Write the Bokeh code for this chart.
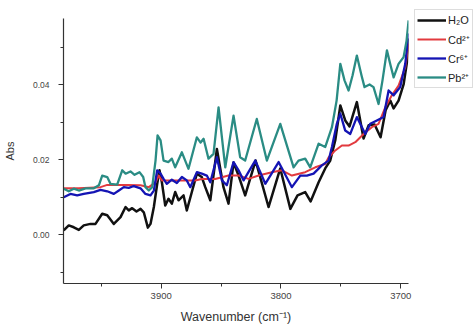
from bokeh.plotting import figure
from bokeh.models import Range1d, FixedTicker, Legend, LegendItem, NumeralTickFormatter
from bokeh.embed import file_html
from bokeh.resources import INLINE

# ---- data ----
series_labels = ["H\u2082O", "Cd\u00b2\u207a", "Cr\u2076\u207a", "Pb\u00b2\u207a"]

h2o_wn = [3981.3, 3977.1, 3972.9, 3968.7, 3964.6, 3959.0, 3954.8, 3949.2, 3945.0, 3939.5,
          3933.9, 3929.7, 3927.0, 3924.2, 3920.6, 3917.2, 3914.5, 3911.1, 3908.9, 3906.1,
          3903.3, 3901.4, 3899.4, 3896.6, 3893.9, 3891.1, 3888.3, 3885.5, 3881.3, 3878.6,
          3874.4, 3870.2, 3866.1, 3863.2, 3859.0, 3853.5, 3848.0, 3843.8, 3839.6, 3835.4,
          3829.9, 3821.2, 3810.4, 3800.6, 3792.2, 3786.2, 3779.8, 3775.3, 3768.6, 3763.1,
          3758.9, 3754.7, 3750.5, 3746.4, 3742.8, 3736.7, 3731.1, 3726.9, 3721.9, 3716.9,
          3712.7, 3708.8, 3706.0, 3701.9, 3697.7, 3694.9, 3693.5]
h2o_abs = [0.0012, 0.0025, 0.0020, 0.0013, 0.0025, 0.0029, 0.0029, 0.0056, 0.0052, 0.0029,
           0.0047, 0.0074, 0.0065, 0.0071, 0.0062, 0.0069, 0.0060, 0.0019, 0.0029, 0.0074,
           0.0136, 0.0172, 0.0140, 0.0078, 0.0096, 0.0083, 0.0114, 0.0092, 0.0105, 0.0065,
           0.0114, 0.0163, 0.0154, 0.0127, 0.0092, 0.0229, 0.0127, 0.0083, 0.0193, 0.0158,
           0.0105, 0.0198, 0.0074, 0.0177, 0.0069, 0.0105, 0.0114, 0.0089, 0.0140, 0.0177,
           0.0198, 0.0252, 0.0345, 0.0305, 0.0289, 0.0354, 0.0257, 0.0292, 0.0294, 0.0260,
           0.0332, 0.0358, 0.0337, 0.0358, 0.0401, 0.0460, 0.0524]

cd_wn = [3981.3, 3969.0, 3950.6, 3945.0, 3928.3, 3917.2, 3910.3, 3904.7, 3902.0, 3899.4,
         3893.9, 3882.7, 3871.6, 3866.1, 3854.9, 3843.8, 3835.4, 3827.1, 3818.7, 3807.6,
         3799.3, 3790.9, 3779.8, 3771.4, 3763.1, 3760.3, 3754.7, 3749.2, 3743.6, 3738.0,
         3731.1, 3724.2, 3718.6, 3713.0, 3707.5, 3701.9, 3696.3, 3693.5]
cd_abs = [0.0124, 0.0124, 0.0127, 0.0133, 0.0133, 0.0132, 0.0127, 0.0140, 0.0158, 0.0145,
          0.0145, 0.0145, 0.0145, 0.0149, 0.0149, 0.0158, 0.0158, 0.0149, 0.0158, 0.0167,
          0.0172, 0.0158, 0.0167, 0.0180, 0.0189, 0.0206, 0.0225, 0.0238, 0.0238, 0.0247,
          0.0269, 0.0287, 0.0296, 0.0340, 0.0372, 0.0398, 0.0447, 0.0510]

cr_wn = [3981.3, 3975.7, 3970.1, 3964.6, 3956.2, 3950.6, 3945.0, 3939.5, 3935.3, 3931.2,
         3927.0, 3922.8, 3917.2, 3913.1, 3908.9, 3906.1, 3903.3, 3900.5, 3898.0, 3895.3,
         3891.1, 3886.9, 3882.7, 3878.6, 3875.7, 3870.2, 3866.1, 3861.9, 3859.0, 3853.5,
         3849.3, 3845.2, 3839.6, 3835.4, 3831.2, 3826.3, 3821.5, 3813.1, 3802.0, 3790.9,
         3783.9, 3778.4, 3772.8, 3765.9, 3760.3, 3757.5, 3753.4, 3750.5, 3746.4, 3742.2,
         3736.7, 3733.9, 3729.7, 3725.5, 3720.0, 3714.4, 3710.2, 3706.0, 3700.5, 3696.3,
         3693.5]
cr_abs = [0.0100, 0.0109, 0.0105, 0.0109, 0.0114, 0.0120, 0.0116, 0.0109, 0.0118, 0.0127,
          0.0125, 0.0130, 0.0124, 0.0109, 0.0105, 0.0118, 0.0172, 0.0163, 0.0149, 0.0136,
          0.0147, 0.0138, 0.0154, 0.0145, 0.0127, 0.0167, 0.0163, 0.0158, 0.0140, 0.0207,
          0.0145, 0.0132, 0.0194, 0.0172, 0.0145, 0.0172, 0.0198, 0.0136, 0.0194, 0.0127,
          0.0158, 0.0158, 0.0163, 0.0185, 0.0198, 0.0234, 0.0296, 0.0323, 0.0278, 0.0269,
          0.0314, 0.0296, 0.0269, 0.0296, 0.0305, 0.0314, 0.0385, 0.0372, 0.0394, 0.0456,
          0.0537]

pb_wn = [3981.3, 3977.1, 3972.9, 3968.7, 3963.1, 3956.2, 3952.0, 3949.2, 3945.0, 3942.3,
         3936.7, 3932.5, 3929.7, 3925.6, 3922.2, 3918.1, 3915.0, 3913.1, 3910.3, 3907.5,
         3904.7, 3903.0, 3900.5, 3898.0, 3893.9, 3891.1, 3888.3, 3882.7, 3877.2, 3870.2,
         3867.1, 3864.6, 3860.5, 3856.3, 3852.1, 3846.5, 3839.6, 3834.1, 3829.9, 3820.2,
         3811.8, 3800.6, 3789.5, 3785.4, 3779.8, 3775.6, 3768.6, 3763.1, 3757.5, 3753.6,
         3750.5, 3747.0, 3743.6, 3740.3, 3736.7, 3732.8, 3730.3, 3726.1, 3722.8, 3718.6,
         3715.3, 3711.6, 3708.6, 3706.0, 3701.9, 3697.7, 3695.2, 3693.5]
pb_abs = [0.0123, 0.0116, 0.0123, 0.0118, 0.0124, 0.0124, 0.0132, 0.0158, 0.0154, 0.0136,
          0.0134, 0.0172, 0.0163, 0.0169, 0.0160, 0.0167, 0.0154, 0.0127, 0.0118, 0.0127,
          0.0198, 0.0265, 0.0252, 0.0198, 0.0194, 0.0203, 0.0180, 0.0220, 0.0176, 0.0260,
          0.0246, 0.0256, 0.0203, 0.0216, 0.0340, 0.0180, 0.0318, 0.0207, 0.0198, 0.0309,
          0.0198, 0.0296, 0.0180, 0.0198, 0.0203, 0.0180, 0.0243, 0.0234, 0.0287, 0.0358,
          0.0456, 0.0412, 0.0385, 0.0425, 0.0478, 0.0425, 0.0394, 0.0401, 0.0394, 0.0349,
          0.0412, 0.0492, 0.0452, 0.0420, 0.0456, 0.0474, 0.0518, 0.0572]

series_colors = ["#111111", "#e23a3f", "#1414b4", "#2a8c84"]

x_major_ticks = [3900, 3800, 3700]
x_minor_ticks = [3950, 3850, 3750]
y_major_ticks = [0.00, 0.02, 0.04]
y_minor_ticks = [-0.01, 0.01, 0.03, 0.05]
x_range_limits = (3981.5, 3693.6)
y_range_limits = (-0.013, 0.0577)

FONT = "Liberation Sans"
FRAME_W, FRAME_H = 345, 265

p = figure(frame_width=FRAME_W, frame_height=FRAME_H,
           x_range=Range1d(*x_range_limits), y_range=Range1d(*y_range_limits),
           output_backend="svg", toolbar_location=None,
           min_border_left=59, min_border_top=18, min_border_bottom=44, min_border_right=0)
p.outline_line_color = None
p.grid.visible = False
p.background_fill_color = "white"
p.border_fill_color = "white"

renderers = []
data = [(h2o_wn, h2o_abs), (cd_wn, cd_abs), (cr_wn, cr_abs), (pb_wn, pb_abs)]
widths = [2.5, 2.0, 2.3, 2.3]
for (wn, ab), col, w in zip(data, series_colors, widths):
    r = p.line(wn, ab, line_color=col, line_width=w, line_join="round")
    renderers.append(r)

# axes
xa = p.xaxis[0]
xa.ticker = FixedTicker(ticks=x_major_ticks, minor_ticks=x_minor_ticks)
xa.axis_label = "Wavenumber (cm\u207b\u00b9)"
ya = p.yaxis[0]
ya.ticker = FixedTicker(ticks=y_major_ticks, minor_ticks=y_minor_ticks)
ya.formatter = NumeralTickFormatter(format="0.00")
ya.axis_label = "Abs"

for ax in (xa, ya):
    ax.axis_line_color = "#333333"
    ax.axis_line_width = 1.2
    ax.major_tick_line_color = "#333333"
    ax.minor_tick_line_color = "#333333"
    ax.major_tick_in = 0
    ax.major_tick_out = 5
    ax.minor_tick_in = 0
    ax.minor_tick_out = 3
    ax.major_label_text_font = FONT
    ax.major_label_text_color = "#444444"
    ax.axis_label_text_font = FONT
    ax.axis_label_text_font_style = "normal"
    ax.axis_label_text_color = "#333333"

xa.major_label_text_font_size = "9.5px"
xa.major_label_standoff = 4
xa.axis_label_text_font_size = "12.5px"
xa.axis_label_standoff = 8
ya.major_label_text_font_size = "8.5px"
ya.major_label_standoff = 9
ya.axis_label_text_font_size = "11px"
ya.axis_label_standoff = 14

legend = Legend(items=[LegendItem(label=lab, renderers=[r]) for lab, r in zip(series_labels, renderers)])
legend.label_text_font = FONT
legend.label_text_font_size = "11px"
legend.label_text_color = "#222222"
legend.glyph_width = 29
legend.glyph_height = 16
legend.label_height = 16
legend.spacing = 3
legend.padding = 2
legend.margin = 6
legend.label_standoff = 2
legend.border_line_color = "#bbbbbb"
legend.background_fill_alpha = 0
legend_h = 4 * 16 + 3 * 3 + 2 * 2
legend.location = (6, FRAME_H + 7 - legend_h)
p.add_layout(legend, "right")

open("out.html", "w").write(file_html(p, INLINE))
